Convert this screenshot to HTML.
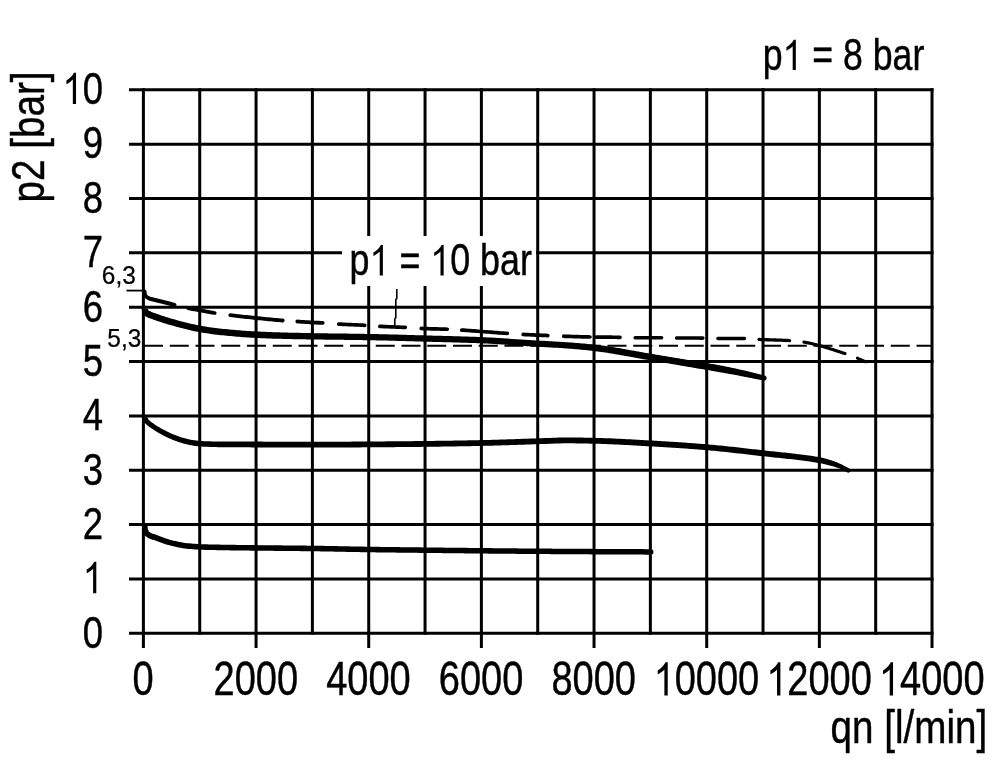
<!DOCTYPE html>
<html><head><meta charset="utf-8"><title>chart</title>
<style>
html,body{margin:0;padding:0;background:#fff}
body{width:1000px;height:764px;overflow:hidden;font-family:"Liberation Sans",sans-serif}
svg{display:block;will-change:transform}
</style></head><body>
<svg width="1000" height="764" viewBox="0 0 1000 764">
<rect width="1000" height="764" fill="#fff"/>
<g stroke="#000" stroke-width="3" fill="none" stroke-linecap="butt">
<path d="M143.4 88.3V648"/>
<path d="M199.73 88.3V634.8"/>
<path d="M256.06 88.3V648"/>
<path d="M312.39 88.3V634.8"/>
<path d="M368.72 88.3V648"/>
<path d="M425.05 88.3V634.8"/>
<path d="M481.38 88.3V648"/>
<path d="M537.71 88.3V634.8"/>
<path d="M594.04 88.3V648"/>
<path d="M650.37 88.3V634.8"/>
<path d="M706.7 88.3V648"/>
<path d="M763.03 88.3V634.8"/>
<path d="M819.36 88.3V648"/>
<path d="M875.69 88.3V634.8"/>
<path d="M932.02 88.3V648"/>
<path d="M129 633.3H933.52"/>
<path d="M129 578.95H933.52"/>
<path d="M129 524.6H933.52"/>
<path d="M129 470.25H933.52"/>
<path d="M129 415.9H933.52"/>
<path d="M129 361.55H933.52"/>
<path d="M129 307.2H933.52"/>
<path d="M129 252.85H933.52"/>
<path d="M129 198.5H933.52"/>
<path d="M129 144.15H933.52"/>
<path d="M129 89.8H933.52"/>
</g>
<rect x="342" y="236" width="194" height="50" fill="#fff"/>
<path d="M144 345.74H932.02" stroke="#000" stroke-width="2" stroke-dasharray="19 6.75" fill="none"/>
<path d="M126.5 290.59H143.4" stroke="#000" stroke-width="1.8" fill="none"/>
<g fill="#000" stroke="none">
<path d="M150.21 311.39 L152.16 312.14 L154.14 312.89 L156.12 313.62 L158.1 314.33 L160.08 315.03 L162.05 315.69 L164.02 316.34 L165.99 316.96 L167.97 317.57 L169.95 318.16 L171.93 318.74 L173.92 319.3 L175.9 319.85 L177.88 320.39 L179.87 320.91 L181.85 321.42 L183.84 321.92 L185.83 322.41 L187.84 322.9 L189.85 323.4 L191.84 323.89 L193.82 324.37 L195.78 324.82 L197.73 325.24 L199.66 325.61 L201.62 325.95 L203.61 326.27 L205.59 326.59 L207.57 326.89 L209.56 327.18 L211.54 327.45 L213.52 327.72 L215.51 327.97 L217.5 328.21 L219.48 328.45 L221.47 328.67 L223.46 328.88 L225.44 329.08 L227.44 329.27 L229.44 329.46 L231.43 329.65 L233.43 329.83 L235.42 330.01 L237.42 330.18 L239.41 330.34 L241.4 330.5 L243.39 330.65 L245.39 330.8 L247.38 330.94 L249.37 331.07 L251.36 331.19 L253.35 331.31 L255.34 331.41 L257.33 331.51 L259.33 331.61 L261.32 331.7 L263.32 331.79 L265.32 331.87 L267.31 331.95 L269.31 332.03 L271.31 332.1 L273.31 332.17 L275.3 332.23 L277.3 332.3 L279.3 332.36 L281.3 332.41 L283.3 332.47 L285.3 332.52 L287.3 332.58 L289.3 332.63 L291.3 332.67 L293.3 332.72 L295.31 332.77 L297.31 332.81 L299.31 332.85 L301.31 332.9 L303.31 332.94 L305.31 332.98 L307.31 333.02 L309.32 333.06 L311.32 333.09 L313.32 333.13 L315.32 333.17 L317.32 333.2 L319.32 333.24 L321.33 333.27 L323.33 333.3 L325.33 333.33 L327.33 333.36 L329.33 333.39 L331.34 333.42 L333.34 333.44 L335.34 333.47 L337.34 333.49 L339.35 333.52 L341.35 333.54 L343.35 333.57 L345.36 333.59 L347.36 333.62 L349.37 333.64 L351.37 333.67 L353.37 333.7 L355.38 333.72 L357.38 333.75 L359.39 333.78 L361.39 333.81 L363.4 333.84 L365.4 333.88 L367.41 333.91 L369.41 333.95 L371.42 333.98 L373.43 334.02 L375.43 334.07 L377.44 334.11 L379.45 334.15 L381.45 334.2 L383.46 334.25 L385.46 334.3 L387.47 334.35 L389.47 334.4 L391.48 334.45 L393.48 334.51 L395.49 334.56 L397.49 334.62 L399.5 334.67 L401.5 334.73 L403.5 334.79 L405.51 334.85 L407.51 334.91 L409.51 334.96 L411.52 335.02 L413.52 335.08 L415.52 335.14 L417.53 335.2 L419.53 335.26 L421.53 335.31 L423.53 335.37 L425.54 335.43 L427.54 335.48 L429.54 335.54 L431.54 335.59 L433.54 335.65 L435.55 335.7 L437.55 335.75 L439.55 335.8 L441.55 335.85 L443.56 335.91 L445.56 335.96 L447.57 336.01 L449.57 336.06 L451.57 336.11 L453.58 336.17 L455.58 336.22 L457.59 336.28 L459.59 336.33 L461.6 336.39 L463.6 336.45 L465.61 336.51 L467.62 336.58 L469.62 336.64 L471.63 336.71 L473.64 336.78 L475.64 336.85 L477.65 336.92 L479.66 337 L481.67 337.08 L483.69 337.17 L485.7 337.27 L487.72 337.38 L489.73 337.49 L491.74 337.61 L493.75 337.73 L495.76 337.86 L497.77 337.99 L499.77 338.12 L501.77 338.24 L503.77 338.37 L505.77 338.49 L507.78 338.62 L509.79 338.75 L511.79 338.88 L513.8 339.01 L515.8 339.14 L517.8 339.27 L519.81 339.41 L521.81 339.54 L523.81 339.67 L525.81 339.8 L527.81 339.93 L529.81 340.05 L531.81 340.18 L533.81 340.3 L535.81 340.41 L537.81 340.53 L539.81 340.64 L541.81 340.76 L543.81 340.87 L545.82 340.98 L547.82 341.09 L549.83 341.21 L551.84 341.32 L553.84 341.44 L555.84 341.56 L557.85 341.68 L559.85 341.8 L561.86 341.91 L563.88 342.03 L565.9 342.16 L567.91 342.3 L569.92 342.44 L571.93 342.59 L573.94 342.74 L575.95 342.89 L577.97 343.05 L579.98 343.22 L581.99 343.39 L584 343.57 L586.02 343.75 L588.03 343.95 L590.05 344.14 L592.06 344.35 L594.08 344.56 L596.1 344.79 L598.13 345.02 L600.15 345.27 L602.17 345.54 L604.2 345.82 L606.22 346.11 L608.23 346.41 L610.25 346.71 L612.27 347.03 L614.28 347.35 L616.3 347.68 L618.31 348.02 L620.32 348.36 L622.33 348.71 L624.34 349.06 L626.35 349.41 L628.36 349.77 L630.37 350.13 L632.37 350.49 L634.38 350.85 L636.38 351.21 L638.38 351.57 L640.38 351.93 L642.38 352.28 L644.38 352.64 L646.38 352.98 L648.37 353.33 L650.37 353.67 L652.36 354 L654.37 354.33 L656.37 354.66 L658.38 355 L660.38 355.33 L662.39 355.67 L664.39 356 L666.4 356.34 L668.4 356.67 L670.4 357.01 L672.41 357.35 L674.41 357.69 L676.42 358.02 L678.42 358.36 L680.42 358.7 L682.43 359.04 L684.43 359.37 L686.43 359.71 L688.44 360.05 L690.44 360.39 L692.44 360.72 L694.45 361.06 L696.44 361.39 L698.44 361.72 L700.44 362.05 L702.45 362.38 L704.45 362.7 L706.45 363.03 L708.46 363.36 L710.47 363.69 L712.48 364.03 L714.5 364.37 L716.51 364.72 L718.53 365.08 L720.55 365.44 L722.55 365.85 L724.56 366.25 L726.56 366.67 L728.56 367.08 L730.57 367.5 L732.57 367.93 L734.58 368.36 L736.58 368.79 L738.58 369.23 L740.59 369.67 L742.59 370.12 L744.59 370.57 L746.6 371.03 L748.6 371.49 L750.6 371.95 L752.6 372.44 L754.6 372.93 L756.6 373.43 L758.6 373.93 L760.6 374.44 L762.6 374.95 L764.59 375.47 L763.41 380.53 L761.4 380.12 L759.39 379.7 L757.38 379.3 L755.37 378.89 L753.37 378.5 L751.36 378.1 L749.35 377.72 L747.35 377.31 L745.34 376.91 L743.34 376.52 L741.34 376.13 L739.33 375.74 L737.33 375.36 L735.33 374.99 L733.33 374.62 L731.32 374.25 L729.32 373.88 L727.32 373.53 L725.32 373.17 L723.31 372.82 L721.31 372.47 L719.31 372.13 L717.32 371.76 L715.33 371.41 L713.34 371.06 L711.35 370.71 L709.35 370.37 L707.36 370.04 L705.36 369.7 L703.36 369.37 L701.35 369.04 L699.35 368.71 L697.34 368.38 L695.33 368.04 L693.32 367.7 L691.32 367.36 L689.32 367.02 L687.31 366.67 L685.31 366.33 L683.31 365.99 L681.3 365.65 L679.3 365.3 L677.3 364.96 L675.3 364.62 L673.29 364.28 L671.29 363.93 L669.29 363.59 L667.29 363.25 L665.29 362.91 L663.28 362.57 L661.28 362.23 L659.28 361.89 L657.28 361.55 L655.28 361.21 L653.27 360.88 L651.27 360.54 L649.26 360.2 L647.25 359.85 L645.24 359.5 L643.23 359.14 L641.22 358.78 L639.21 358.42 L637.21 358.06 L635.2 357.69 L633.2 357.33 L631.2 356.96 L629.2 356.6 L627.2 356.24 L625.2 355.88 L623.2 355.52 L621.2 355.16 L619.21 354.82 L617.21 354.47 L615.22 354.13 L613.23 353.8 L611.24 353.48 L609.25 353.16 L607.26 352.85 L605.27 352.55 L603.28 352.26 L601.3 351.98 L599.31 351.72 L597.33 351.46 L595.35 351.21 L593.37 350.98 L591.38 350.75 L589.38 350.53 L587.39 350.32 L585.4 350.12 L583.41 349.92 L581.42 349.73 L579.42 349.54 L577.43 349.36 L575.43 349.19 L573.44 349.02 L571.44 348.86 L569.45 348.7 L567.45 348.54 L565.46 348.39 L563.47 348.25 L561.48 348.11 L559.48 347.99 L557.48 347.87 L555.48 347.75 L553.48 347.63 L551.47 347.52 L549.47 347.4 L547.47 347.29 L545.47 347.18 L543.47 347.06 L541.47 346.95 L539.46 346.84 L537.46 346.73 L535.45 346.61 L533.44 346.5 L531.43 346.38 L529.43 346.25 L527.42 346.13 L525.41 346 L523.41 345.87 L521.4 345.74 L519.4 345.61 L517.39 345.48 L515.39 345.35 L513.39 345.21 L511.39 345.08 L509.39 344.96 L507.39 344.83 L505.39 344.7 L503.39 344.58 L501.38 344.46 L499.37 344.33 L497.37 344.2 L495.37 344.07 L493.37 343.95 L491.37 343.83 L489.37 343.71 L487.38 343.6 L485.39 343.49 L483.4 343.4 L481.41 343.31 L479.42 343.23 L477.42 343.16 L475.42 343.08 L473.42 343.01 L471.42 342.94 L469.42 342.88 L467.42 342.81 L465.42 342.75 L463.42 342.69 L461.42 342.63 L459.42 342.57 L457.42 342.52 L455.41 342.46 L453.41 342.41 L451.41 342.36 L449.41 342.31 L447.41 342.26 L445.4 342.21 L443.4 342.15 L441.4 342.1 L439.39 342.05 L437.39 342 L435.38 341.95 L433.38 341.9 L431.38 341.85 L429.37 341.79 L427.37 341.74 L425.36 341.68 L423.36 341.63 L421.35 341.57 L419.35 341.52 L417.35 341.46 L415.34 341.4 L413.34 341.34 L411.34 341.28 L409.33 341.23 L407.33 341.17 L405.33 341.11 L403.32 341.05 L401.32 341 L399.32 340.94 L397.32 340.89 L395.31 340.83 L393.31 340.78 L391.31 340.72 L389.31 340.67 L387.31 340.62 L385.31 340.57 L383.31 340.52 L381.3 340.48 L379.3 340.43 L377.3 340.39 L375.3 340.34 L373.3 340.3 L371.3 340.27 L369.3 340.23 L367.3 340.19 L365.3 340.16 L363.3 340.13 L361.3 340.1 L359.3 340.07 L357.29 340.04 L355.29 340.01 L353.29 339.99 L351.29 339.96 L349.29 339.93 L347.28 339.91 L345.28 339.89 L343.28 339.86 L341.27 339.84 L339.27 339.81 L337.27 339.79 L335.26 339.77 L333.26 339.74 L331.26 339.72 L329.25 339.69 L327.25 339.67 L325.24 339.64 L323.24 339.62 L321.23 339.59 L319.23 339.57 L317.22 339.54 L315.22 339.51 L313.21 339.48 L311.21 339.45 L309.2 339.41 L307.2 339.38 L305.2 339.35 L303.19 339.31 L301.19 339.28 L299.18 339.24 L297.18 339.2 L295.17 339.17 L293.16 339.13 L291.16 339.08 L289.15 339.04 L287.15 339 L285.14 338.95 L283.13 338.9 L281.13 338.85 L279.12 338.8 L277.11 338.74 L275.11 338.69 L273.1 338.63 L271.09 338.56 L269.08 338.5 L267.07 338.42 L265.06 338.35 L263.05 338.27 L261.04 338.19 L259.03 338.1 L257.02 338 L255.01 337.9 L252.99 337.8 L250.97 337.68 L248.96 337.55 L246.94 337.42 L244.93 337.28 L242.91 337.14 L240.9 336.98 L238.88 336.82 L236.87 336.66 L234.86 336.48 L232.85 336.31 L230.84 336.12 L228.82 335.94 L226.81 335.74 L224.8 335.55 L222.79 335.34 L220.77 335.13 L218.75 334.9 L216.73 334.67 L214.71 334.42 L212.68 334.16 L210.66 333.89 L208.64 333.61 L206.62 333.32 L204.59 333.01 L202.57 332.69 L200.55 332.36 L198.5 332.01 L196.43 331.61 L194.37 331.17 L192.32 330.69 L190.3 330.21 L188.28 329.71 L186.29 329.22 L184.29 328.73 L182.27 328.23 L180.25 327.72 L178.23 327.2 L176.21 326.67 L174.18 326.12 L172.16 325.56 L170.14 324.99 L168.11 324.4 L166.09 323.79 L164.06 323.17 L162.03 322.53 L159.99 321.86 L157.96 321.17 L155.93 320.46 L153.9 319.73 L151.87 318.98 L149.85 318.22 L147.79 317.42Z"/>
<path d="M144.9 308.8C144.9 312.6 146.3 313.6 150 314.9" fill="none" stroke="#000" stroke-width="6.5"/>
<circle cx="764" cy="378" r="2.6"/>
<path d="M146.03 416.55 L147.81 418.86 L149.67 420.63 L151.54 422.16 L153.46 423.55 L155.44 424.91 L157.37 426.17 L159.31 427.34 L161.27 428.46 L163.25 429.55 L165.22 430.59 L167.18 431.59 L169.13 432.54 L171.08 433.42 L173.05 434.27 L175 435.07 L176.95 435.82 L178.88 436.51 L180.85 437.16 L182.8 437.77 L184.74 438.32 L186.65 438.8 L188.61 439.25 L190.57 439.65 L192.51 440.01 L194.44 440.32 L196.43 440.62 L198.33 440.86 L200.18 440.99 L202.17 441.08 L204.16 441.16 L206.15 441.23 L208.14 441.3 L210.13 441.35 L212.12 441.4 L214.12 441.45 L216.11 441.48 L218.1 441.51 L220.09 441.54 L222.08 441.56 L224.08 441.57 L226.07 441.58 L228.07 441.58 L230.07 441.59 L232.07 441.59 L234.07 441.59 L236.07 441.6 L238.07 441.6 L240.08 441.6 L242.08 441.6 L244.08 441.6 L246.08 441.6 L248.08 441.6 L250.08 441.6 L252.08 441.6 L254.09 441.6 L256.09 441.6 L258.09 441.61 L260.09 441.61 L262.1 441.62 L264.1 441.63 L266.1 441.64 L268.1 441.65 L270.1 441.66 L272.1 441.67 L274.11 441.67 L276.11 441.68 L278.11 441.69 L280.11 441.7 L282.11 441.71 L284.11 441.72 L286.11 441.73 L288.11 441.74 L290.12 441.74 L292.12 441.75 L294.12 441.76 L296.12 441.77 L298.12 441.77 L300.12 441.78 L302.12 441.78 L304.12 441.79 L306.12 441.79 L308.12 441.79 L310.12 441.79 L312.12 441.79 L314.12 441.79 L316.12 441.79 L318.12 441.79 L320.12 441.79 L322.12 441.78 L324.12 441.78 L326.12 441.77 L328.12 441.76 L330.12 441.75 L332.12 441.74 L334.12 441.73 L336.12 441.72 L338.12 441.71 L340.12 441.7 L342.12 441.69 L344.12 441.67 L346.12 441.66 L348.12 441.65 L350.13 441.63 L352.13 441.62 L354.13 441.6 L356.13 441.59 L358.13 441.57 L360.13 441.56 L362.13 441.54 L364.14 441.53 L366.14 441.52 L368.14 441.5 L370.14 441.49 L372.14 441.48 L374.14 441.46 L376.14 441.45 L378.15 441.43 L380.15 441.42 L382.15 441.4 L384.15 441.39 L386.15 441.37 L388.15 441.36 L390.15 441.34 L392.15 441.33 L394.15 441.31 L396.15 441.29 L398.16 441.27 L400.16 441.26 L402.16 441.24 L404.16 441.22 L406.16 441.2 L408.16 441.18 L410.16 441.16 L412.16 441.14 L414.16 441.12 L416.16 441.1 L418.16 441.08 L420.16 441.06 L422.17 441.04 L424.17 441.02 L426.17 440.99 L428.17 440.97 L430.17 440.95 L432.17 440.92 L434.17 440.9 L436.17 440.87 L438.17 440.84 L440.17 440.82 L442.17 440.79 L444.17 440.76 L446.17 440.73 L448.17 440.7 L450.17 440.67 L452.17 440.64 L454.17 440.61 L456.17 440.57 L458.17 440.54 L460.17 440.5 L462.17 440.47 L464.17 440.43 L466.17 440.4 L468.18 440.36 L470.18 440.32 L472.18 440.28 L474.18 440.24 L476.18 440.2 L478.18 440.16 L480.18 440.12 L482.18 440.08 L484.17 440.03 L486.17 439.98 L488.17 439.93 L490.17 439.88 L492.17 439.83 L494.17 439.77 L496.16 439.71 L498.16 439.65 L500.16 439.59 L502.16 439.53 L504.16 439.46 L506.16 439.4 L508.16 439.33 L510.16 439.27 L512.16 439.2 L514.16 439.13 L516.16 439.06 L518.17 438.99 L520.17 438.93 L522.17 438.86 L524.17 438.79 L526.17 438.72 L528.18 438.66 L530.18 438.59 L532.18 438.52 L534.19 438.46 L536.19 438.4 L538.18 438.34 L540.18 438.27 L542.17 438.19 L544.17 438.12 L546.17 438.04 L548.17 437.96 L550.17 437.88 L552.18 437.8 L554.19 437.73 L556.2 437.66 L558.21 437.6 L560.23 437.55 L562.25 437.51 L564.27 437.49 L566.29 437.47 L568.31 437.47 L570.32 437.48 L572.33 437.49 L574.33 437.51 L576.34 437.53 L578.35 437.56 L580.36 437.59 L582.36 437.62 L584.37 437.66 L586.37 437.69 L588.37 437.73 L590.38 437.77 L592.38 437.82 L594.38 437.86 L596.39 437.9 L598.4 437.95 L600.41 438 L602.42 438.06 L604.43 438.13 L606.44 438.2 L608.44 438.28 L610.45 438.36 L612.46 438.44 L614.47 438.53 L616.47 438.63 L618.48 438.72 L620.49 438.82 L622.49 438.92 L624.5 439.03 L626.5 439.14 L628.5 439.24 L630.51 439.36 L632.51 439.47 L634.51 439.58 L636.52 439.69 L638.52 439.81 L640.52 439.92 L642.52 440.04 L644.52 440.15 L646.52 440.27 L648.52 440.38 L650.52 440.49 L652.53 440.6 L654.53 440.71 L656.53 440.83 L658.54 440.95 L660.54 441.06 L662.54 441.18 L664.55 441.3 L666.55 441.42 L668.55 441.55 L670.56 441.67 L672.56 441.8 L674.57 441.93 L676.57 442.06 L678.58 442.19 L680.58 442.33 L682.58 442.47 L684.59 442.6 L686.59 442.75 L688.6 442.89 L690.6 443.03 L692.61 443.18 L694.61 443.33 L696.62 443.49 L698.62 443.64 L700.63 443.8 L702.63 443.96 L704.64 444.12 L706.65 444.29 L708.66 444.46 L710.66 444.64 L712.67 444.82 L714.68 445 L716.69 445.2 L718.7 445.39 L720.7 445.59 L722.71 445.79 L724.72 446 L726.72 446.21 L728.73 446.42 L730.73 446.64 L732.74 446.86 L734.74 447.08 L736.75 447.3 L738.75 447.53 L740.75 447.75 L742.76 447.98 L744.76 448.21 L746.76 448.44 L748.77 448.67 L750.77 448.9 L752.77 449.13 L754.77 449.36 L756.77 449.59 L758.77 449.82 L760.77 450.05 L762.77 450.28 L764.76 450.5 L766.76 450.72 L768.76 450.93 L770.75 451.15 L772.75 451.35 L774.75 451.56 L776.75 451.77 L778.75 451.97 L780.75 452.18 L782.76 452.38 L784.76 452.59 L786.77 452.8 L788.77 453.02 L790.78 453.23 L792.79 453.46 L794.8 453.68 L796.81 453.92 L798.82 454.16 L800.83 454.41 L802.85 454.66 L804.86 454.93 L806.88 455.2 L808.89 455.49 L810.91 455.79 L812.93 456.1 L814.95 456.42 L816.97 456.75 L818.99 457.1 L821.04 457.5 L823.09 457.98 L825.14 458.51 L827.18 459.08 L829.21 459.69 L831.24 460.33 L833.27 461.02 L835.29 461.74 L837.35 462.53 L839.41 463.41 L841.46 464.36 L843.49 465.39 L845.51 466.47 L847.53 467.6 L849.53 468.77 L847.47 472.43 L845.47 471.4 L843.48 470.41 L841.5 469.48 L839.53 468.62 L837.57 467.84 L835.63 467.13 L833.69 466.52 L831.71 465.93 L829.73 465.39 L827.76 464.88 L825.79 464.41 L823.83 463.99 L821.87 463.6 L819.92 463.26 L817.97 462.91 L815.98 462.57 L814 462.24 L812.02 461.92 L810.03 461.62 L808.05 461.33 L806.06 461.04 L804.08 460.77 L802.09 460.51 L800.1 460.26 L798.11 460.01 L796.12 459.77 L794.13 459.54 L792.13 459.31 L790.14 459.09 L788.14 458.88 L786.15 458.66 L784.15 458.45 L782.15 458.25 L780.15 458.04 L778.15 457.83 L776.15 457.63 L774.15 457.42 L772.14 457.21 L770.14 457.01 L768.13 456.79 L766.12 456.58 L764.12 456.36 L762.11 456.13 L760.1 455.9 L758.1 455.67 L756.1 455.44 L754.1 455.21 L752.09 454.98 L750.09 454.75 L748.09 454.52 L746.09 454.29 L744.09 454.06 L742.09 453.83 L740.09 453.6 L738.09 453.38 L736.09 453.15 L734.09 452.93 L732.1 452.71 L730.1 452.49 L728.1 452.28 L726.1 452.06 L724.11 451.85 L722.11 451.65 L720.11 451.44 L718.12 451.25 L716.12 451.05 L714.13 450.86 L712.13 450.67 L710.14 450.49 L708.15 450.32 L706.15 450.15 L704.16 449.98 L702.16 449.82 L700.16 449.66 L698.16 449.5 L696.17 449.35 L694.17 449.19 L692.17 449.04 L690.17 448.9 L688.17 448.75 L686.18 448.61 L684.18 448.47 L682.18 448.33 L680.18 448.19 L678.18 448.06 L676.18 447.92 L674.19 447.79 L672.19 447.66 L670.19 447.54 L668.19 447.41 L666.19 447.29 L664.19 447.16 L662.19 447.04 L660.19 446.92 L658.19 446.81 L656.19 446.69 L654.2 446.58 L652.2 446.46 L650.2 446.35 L648.19 446.24 L646.19 446.13 L644.19 446.01 L642.19 445.9 L640.18 445.78 L638.18 445.67 L636.18 445.55 L634.18 445.44 L632.18 445.32 L630.18 445.21 L628.18 445.1 L626.18 444.99 L624.19 444.89 L622.19 444.78 L620.19 444.68 L618.19 444.58 L616.2 444.48 L614.2 444.39 L612.2 444.3 L610.21 444.22 L608.21 444.14 L606.22 444.06 L604.23 443.99 L602.23 443.92 L600.24 443.86 L598.25 443.81 L596.25 443.76 L594.26 443.72 L592.26 443.67 L590.26 443.63 L588.26 443.59 L586.26 443.55 L584.26 443.51 L582.26 443.48 L580.26 443.44 L578.27 443.41 L576.27 443.39 L574.28 443.37 L572.28 443.35 L570.29 443.34 L568.3 443.33 L566.31 443.33 L564.33 443.34 L562.35 443.37 L560.36 443.41 L558.37 443.45 L556.38 443.51 L554.39 443.58 L552.4 443.65 L550.4 443.73 L548.4 443.8 L546.4 443.88 L544.4 443.96 L542.39 444.04 L540.39 444.11 L538.38 444.18 L536.37 444.25 L534.37 444.31 L532.37 444.37 L530.37 444.43 L528.37 444.5 L526.37 444.57 L524.37 444.63 L522.37 444.7 L520.37 444.77 L518.37 444.84 L516.36 444.9 L514.36 444.97 L512.36 445.04 L510.36 445.11 L508.36 445.17 L506.35 445.24 L504.35 445.3 L502.35 445.37 L500.34 445.43 L498.34 445.49 L496.34 445.55 L494.33 445.61 L492.33 445.67 L490.32 445.72 L488.32 445.77 L486.31 445.82 L484.31 445.87 L482.3 445.91 L480.3 445.96 L478.3 446 L476.3 446.04 L474.29 446.08 L472.29 446.12 L470.29 446.16 L468.29 446.2 L466.28 446.23 L464.28 446.27 L462.28 446.3 L460.28 446.34 L458.27 446.37 L456.27 446.41 L454.27 446.44 L452.27 446.47 L450.26 446.5 L448.26 446.53 L446.26 446.56 L444.26 446.59 L442.25 446.62 L440.25 446.65 L438.25 446.68 L436.25 446.7 L434.24 446.73 L432.24 446.75 L430.24 446.78 L428.24 446.8 L426.23 446.82 L424.23 446.85 L422.23 446.87 L420.23 446.89 L418.23 446.91 L416.22 446.93 L414.22 446.95 L412.22 446.97 L410.22 446.99 L408.22 447.01 L406.21 447.03 L404.21 447.05 L402.21 447.07 L400.21 447.08 L398.21 447.1 L396.2 447.12 L394.2 447.13 L392.2 447.15 L390.2 447.17 L388.2 447.18 L386.19 447.2 L384.19 447.21 L382.19 447.23 L380.19 447.24 L378.19 447.25 L376.19 447.27 L374.18 447.28 L372.18 447.3 L370.18 447.31 L368.18 447.32 L366.18 447.34 L364.18 447.35 L362.18 447.36 L360.17 447.38 L358.17 447.39 L356.17 447.41 L354.17 447.42 L352.17 447.43 L350.17 447.45 L348.16 447.46 L346.16 447.47 L344.16 447.49 L342.16 447.5 L340.16 447.51 L338.15 447.52 L336.15 447.54 L334.15 447.55 L332.15 447.56 L330.15 447.57 L328.14 447.57 L326.14 447.58 L324.14 447.59 L322.13 447.59 L320.13 447.6 L318.13 447.6 L316.12 447.6 L314.12 447.6 L312.12 447.6 L310.12 447.6 L308.11 447.6 L306.11 447.6 L304.11 447.6 L302.11 447.59 L300.1 447.59 L298.1 447.58 L296.1 447.57 L294.1 447.57 L292.09 447.56 L290.09 447.55 L288.09 447.54 L286.09 447.53 L284.09 447.52 L282.08 447.52 L280.08 447.51 L278.08 447.5 L276.08 447.49 L274.08 447.48 L272.08 447.47 L270.08 447.46 L268.08 447.45 L266.07 447.44 L264.07 447.43 L262.07 447.42 L260.07 447.42 L258.07 447.41 L256.07 447.4 L254.07 447.39 L252.07 447.38 L250.07 447.37 L248.07 447.36 L246.07 447.35 L244.06 447.34 L242.06 447.33 L240.06 447.32 L238.06 447.31 L236.06 447.3 L234.05 447.29 L232.05 447.28 L230.05 447.26 L228.05 447.25 L226.04 447.23 L224.04 447.22 L222.03 447.19 L220.02 447.16 L218.01 447.13 L215.99 447.09 L213.98 447.04 L211.97 446.98 L209.96 446.91 L207.95 446.84 L205.94 446.75 L203.92 446.66 L201.91 446.56 L199.9 446.46 L197.75 446.28 L195.64 446 L193.63 445.69 L191.56 445.34 L189.5 444.94 L187.45 444.49 L185.41 444.01 L183.32 443.47 L181.25 442.86 L179.2 442.2 L177.17 441.51 L175.1 440.76 L173.04 439.95 L170.99 439.09 L168.96 438.19 L166.9 437.24 L164.85 436.23 L162.81 435.17 L160.78 434.07 L158.75 432.94 L156.71 431.75 L154.64 430.48 L152.57 429.1 L150.55 427.69 L148.47 426.16 L146.34 424.4 L144.19 422.34 L141.97 419.45Z"/>
<circle cx="848.5" cy="470.6" r="2.1"/>
<path d="M142.2 415.5H146.5L148 419L142.2 422Z"/>
<path d="M154.12 534.01 L156.04 534.81 L158.03 535.6 L160 536.37 L161.97 537.11 L163.93 537.81 L165.87 538.47 L167.81 539.09 L169.73 539.64 L171.68 540.14 L173.66 540.63 L175.63 541.1 L177.59 541.54 L179.55 541.94 L181.49 542.31 L183.43 542.63 L185.36 542.91 L187.31 543.13 L189.28 543.34 L191.26 543.54 L193.23 543.71 L195.2 543.86 L197.16 543.98 L199.12 544.08 L201.1 544.16 L203.09 544.23 L205.08 544.29 L207.08 544.35 L209.07 544.4 L211.06 544.45 L213.06 544.49 L215.05 544.53 L217.05 544.57 L219.05 544.61 L221.05 544.64 L223.05 544.67 L225.05 544.71 L227.04 544.74 L229.04 544.77 L231.04 544.8 L233.04 544.83 L235.04 544.86 L237.04 544.89 L239.03 544.91 L241.03 544.94 L243.03 544.96 L245.03 544.98 L247.03 545.01 L249.03 545.03 L251.03 545.05 L253.03 545.08 L255.03 545.1 L257.03 545.12 L259.03 545.15 L261.03 545.17 L263.03 545.19 L265.03 545.21 L267.03 545.23 L269.03 545.25 L271.03 545.27 L273.03 545.29 L275.03 545.31 L277.03 545.33 L279.03 545.35 L281.03 545.37 L283.03 545.39 L285.03 545.41 L287.03 545.43 L289.03 545.45 L291.03 545.47 L293.03 545.49 L295.03 545.51 L297.03 545.53 L299.03 545.55 L301.03 545.57 L303.03 545.59 L305.03 545.62 L307.03 545.64 L309.03 545.67 L311.04 545.69 L313.04 545.72 L315.04 545.74 L317.04 545.77 L319.04 545.8 L321.04 545.84 L323.05 545.87 L325.05 545.9 L327.05 545.94 L329.05 545.97 L331.05 546.01 L333.05 546.05 L335.05 546.09 L337.05 546.12 L339.05 546.16 L341.05 546.2 L343.05 546.24 L345.05 546.28 L347.05 546.32 L349.05 546.36 L351.05 546.4 L353.05 546.43 L355.05 546.47 L357.05 546.51 L359.05 546.54 L361.05 546.58 L363.05 546.61 L365.04 546.65 L367.04 546.68 L369.04 546.71 L371.04 546.74 L373.04 546.77 L375.04 546.79 L377.04 546.82 L379.04 546.85 L381.04 546.88 L383.04 546.9 L385.04 546.93 L387.04 546.96 L389.04 546.98 L391.03 547.01 L393.03 547.03 L395.03 547.06 L397.03 547.08 L399.03 547.11 L401.03 547.13 L403.03 547.15 L405.03 547.18 L407.03 547.2 L409.03 547.22 L411.03 547.25 L413.03 547.27 L415.03 547.29 L417.03 547.32 L419.03 547.34 L421.03 547.36 L423.03 547.38 L425.03 547.41 L427.03 547.43 L429.03 547.45 L431.03 547.47 L433.03 547.49 L435.03 547.52 L437.03 547.54 L439.03 547.56 L441.03 547.58 L443.03 547.61 L445.03 547.63 L447.03 547.65 L449.03 547.67 L451.03 547.69 L453.03 547.72 L455.03 547.74 L457.03 547.76 L459.03 547.78 L461.03 547.8 L463.03 547.82 L465.03 547.85 L467.03 547.87 L469.03 547.89 L471.03 547.91 L473.03 547.93 L475.03 547.95 L477.03 547.97 L479.03 547.99 L481.03 548.02 L483.03 548.04 L485.03 548.06 L487.03 548.08 L489.03 548.1 L491.03 548.12 L493.03 548.14 L495.03 548.16 L497.03 548.18 L499.03 548.19 L501.03 548.21 L503.03 548.23 L505.03 548.25 L507.03 548.27 L509.02 548.29 L511.02 548.31 L513.02 548.32 L515.02 548.34 L517.02 548.36 L519.02 548.38 L521.02 548.39 L523.02 548.41 L525.02 548.43 L527.02 548.44 L529.02 548.46 L531.02 548.47 L533.02 548.49 L535.02 548.5 L537.02 548.52 L539.02 548.53 L541.02 548.55 L543.02 548.56 L545.02 548.57 L547.02 548.59 L549.02 548.6 L551.02 548.62 L553.02 548.63 L555.02 548.64 L557.02 548.66 L559.02 548.67 L561.02 548.68 L563.02 548.7 L565.02 548.71 L567.02 548.72 L569.02 548.74 L571.02 548.75 L573.02 548.76 L575.02 548.77 L577.02 548.79 L579.02 548.8 L581.02 548.81 L583.02 548.82 L585.02 548.83 L587.02 548.85 L589.02 548.86 L591.02 548.87 L593.02 548.88 L595.02 548.89 L597.02 548.9 L599.01 548.92 L601.01 548.93 L603.01 548.94 L605.01 548.95 L607.01 548.96 L609.01 548.97 L611.01 548.98 L613.01 548.99 L615.01 549 L617.01 549.01 L619.01 549.02 L621.01 549.03 L623.01 549.04 L625.01 549.05 L627.01 549.06 L629.01 549.06 L631.01 549.07 L633.01 549.08 L635.01 549.09 L637.01 549.1 L639.01 549.11 L641.01 549.11 L643.01 549.12 L645.01 549.13 L647.01 549.14 L649.01 549.14 L651.01 549.15 L650.99 554.65 L648.99 554.64 L646.99 554.64 L644.99 554.63 L642.99 554.62 L640.99 554.62 L638.99 554.61 L636.99 554.6 L634.99 554.59 L632.99 554.59 L630.99 554.58 L628.99 554.57 L626.99 554.56 L624.99 554.55 L622.99 554.54 L620.99 554.53 L618.99 554.53 L616.99 554.52 L614.99 554.51 L612.99 554.5 L610.99 554.49 L608.99 554.48 L606.99 554.47 L604.99 554.46 L602.99 554.45 L600.99 554.44 L598.99 554.43 L596.98 554.41 L594.98 554.4 L592.98 554.39 L590.98 554.38 L588.98 554.37 L586.98 554.36 L584.98 554.35 L582.98 554.34 L580.98 554.32 L578.98 554.31 L576.98 554.3 L574.98 554.29 L572.98 554.28 L570.98 554.26 L568.98 554.25 L566.98 554.24 L564.98 554.23 L562.98 554.21 L560.98 554.2 L558.98 554.19 L556.98 554.17 L554.98 554.16 L552.98 554.15 L550.98 554.14 L548.98 554.12 L546.98 554.11 L544.98 554.09 L542.98 554.08 L540.98 554.07 L538.98 554.05 L536.98 554.04 L534.98 554.03 L532.98 554.01 L530.98 554 L528.98 553.98 L526.98 553.97 L524.98 553.95 L522.98 553.93 L520.98 553.92 L518.98 553.9 L516.98 553.88 L514.98 553.87 L512.98 553.85 L510.98 553.83 L508.98 553.82 L506.97 553.8 L504.97 553.78 L502.97 553.76 L500.97 553.74 L498.97 553.72 L496.97 553.71 L494.97 553.69 L492.97 553.67 L490.97 553.65 L488.97 553.63 L486.97 553.61 L484.97 553.59 L482.97 553.57 L480.97 553.55 L478.97 553.53 L476.97 553.51 L474.97 553.49 L472.97 553.47 L470.97 553.45 L468.97 553.43 L466.97 553.4 L464.97 553.38 L462.97 553.36 L460.97 553.34 L458.97 553.32 L456.97 553.3 L454.97 553.28 L452.97 553.25 L450.97 553.23 L448.97 553.21 L446.97 553.19 L444.97 553.17 L442.97 553.15 L440.97 553.12 L438.97 553.1 L436.97 553.08 L434.97 553.06 L432.97 553.04 L430.97 553.02 L428.97 552.99 L426.97 552.97 L424.97 552.95 L422.97 552.93 L420.97 552.91 L418.97 552.88 L416.97 552.86 L414.97 552.84 L412.97 552.82 L410.97 552.79 L408.97 552.77 L406.97 552.75 L404.97 552.73 L402.97 552.7 L400.97 552.68 L398.97 552.66 L396.97 552.63 L394.97 552.61 L392.97 552.58 L390.97 552.56 L388.96 552.53 L386.96 552.51 L384.96 552.48 L382.96 552.46 L380.96 552.43 L378.96 552.4 L376.96 552.38 L374.96 552.35 L372.96 552.32 L370.96 552.29 L368.96 552.26 L366.96 552.23 L364.96 552.2 L362.95 552.17 L360.95 552.13 L358.95 552.1 L356.95 552.06 L354.95 552.03 L352.95 551.99 L350.95 551.95 L348.95 551.92 L346.95 551.88 L344.95 551.84 L342.95 551.8 L340.95 551.76 L338.95 551.72 L336.95 551.68 L334.95 551.65 L332.95 551.61 L330.95 551.57 L328.95 551.54 L326.95 551.5 L324.95 551.47 L322.95 551.43 L320.96 551.4 L318.96 551.37 L316.96 551.34 L314.96 551.31 L312.96 551.28 L310.96 551.26 L308.97 551.23 L306.97 551.21 L304.97 551.19 L302.97 551.16 L300.97 551.14 L298.97 551.12 L296.97 551.1 L294.97 551.08 L292.97 551.06 L290.97 551.04 L288.97 551.02 L286.97 551 L284.97 550.98 L282.97 550.96 L280.97 550.94 L278.97 550.92 L276.97 550.9 L274.97 550.89 L272.97 550.87 L270.97 550.85 L268.97 550.83 L266.97 550.81 L264.97 550.79 L262.97 550.77 L260.97 550.74 L258.97 550.72 L256.97 550.7 L254.97 550.68 L252.97 550.65 L250.97 550.63 L248.97 550.61 L246.97 550.59 L244.97 550.56 L242.97 550.54 L240.97 550.52 L238.97 550.49 L236.96 550.47 L234.96 550.44 L232.96 550.41 L230.96 550.39 L228.96 550.36 L226.96 550.32 L224.95 550.29 L222.95 550.26 L220.95 550.22 L218.95 550.19 L216.95 550.15 L214.95 550.12 L212.94 550.08 L210.94 550.03 L208.93 549.99 L206.92 549.93 L204.92 549.88 L202.91 549.81 L200.9 549.74 L198.88 549.67 L196.84 549.56 L194.8 549.43 L192.77 549.28 L190.74 549.1 L188.72 548.91 L186.69 548.69 L184.64 548.45 L182.57 548.16 L180.51 547.82 L178.45 547.43 L176.41 547 L174.37 546.55 L172.34 546.07 L170.32 545.57 L168.27 545.04 L166.19 544.44 L164.13 543.79 L162.07 543.09 L160.03 542.36 L158 541.59 L155.97 540.8 L153.96 540 L151.88 539.15Z"/>
<path d="M144.7 525.5C144.7 533 147 535 154 537.2" fill="none" stroke="#000" stroke-width="5.6"/>
<circle cx="650.8" cy="551.9" r="2.65"/>
</g>
<g stroke="#000" fill="none" stroke-linecap="round" stroke-linejoin="round">
<path d="M144.5 291.5C144.6 296 146 297.5 150 298.8 L150 298.8 L152.04 299.32 L154.08 299.8 L156.12 300.26 L158.17 300.71 L160.21 301.17 L162.25 301.66 L164.29 302.19 L166.33 302.74 L168.38 303.29 L170.42 303.85 L172.46 304.4 L174.5 304.93" stroke-width="4.1"/>
<path d="M188.3 308.26 L190.33 308.66 L192.36 309.04 L194.39 309.39 L196.42 309.75 L198.45 310.1 L200.48 310.47 L202.52 310.84 L204.55 311.21 L206.58 311.59 L208.61 311.95 L210.64 312.31 L212.67 312.66 L214.7 313" stroke-width="3.8"/>
<path d="M230.3 315.16 L232.32 315.41 L234.33 315.65 L236.35 315.88 L238.36 316.12 L240.38 316.34 L242.39 316.57 L244.41 316.79 L246.42 317.01 L248.44 317.22 L250.45 317.43 L252.47 317.64 L254.48 317.85 L256.5 318.05 L258.52 318.25 L260.53 318.46 L262.55 318.66 L264.56 318.86 L266.58 319.06 L268.59 319.25 L270.61 319.45 L272.62 319.63 L274.64 319.82 L276.65 320 L278.67 320.17 L280.68 320.34 L282.7 320.5" stroke-width="3.8"/>
<path d="M297.3 321.49 L299.42 321.63 L301.53 321.78 L303.65 321.92 L305.77 322.06 L307.88 322.2 L310 322.33 L312.12 322.45 L314.23 322.56 L316.35 322.66 L318.47 322.74 L320.58 322.83 L322.7 322.93" stroke-width="3.8"/>
<path d="M338.75 324.07 L340.75 324.19 L342.75 324.29 L344.75 324.39 L346.75 324.48 L348.75 324.57 L350.75 324.66 L352.75 324.75 L354.75 324.83 L356.75 324.92 L358.75 325.02 L360.75 325.11 L362.75 325.22 L364.75 325.33" stroke-width="3.7"/>
<path d="M379.85 326.37 L381.97 326.47 L384.08 326.57 L386.2 326.66 L388.32 326.75 L390.43 326.83 L392.55 326.91 L394.67 326.99 L396.78 327.07 L398.9 327.15 L401.02 327.24 L403.13 327.33 L405.25 327.43" stroke-width="3.7"/>
<path d="M421.25 328.45 L423.25 328.53 L425.25 328.6 L427.25 328.67 L429.25 328.73 L431.25 328.78 L433.25 328.83 L435.25 328.88 L437.25 328.93 L439.25 328.99 L441.25 329.04 L443.25 329.11 L445.25 329.17 L447.25 329.25" stroke-width="3.7"/>
<path d="M461.75 330.08 L463.82 330.22 L465.89 330.35 L467.95 330.5 L470.02 330.64 L472.09 330.79 L474.16 330.94 L476.23 331.09 L478.3 331.25 L480.36 331.4 L482.43 331.56 L484.5 331.72 L486.57 331.87 L488.64 332.03 L490.7 332.19 L492.77 332.35 L494.84 332.5 L496.91 332.66 L498.98 332.81 L501.05 332.97 L503.11 333.12 L505.18 333.27 L507.25 333.41" stroke-width="3.7"/>
<path d="M523.25 334.47 L525.29 334.57 L527.33 334.67 L529.38 334.77 L531.42 334.86 L533.46 334.95 L535.5 335.04 L537.54 335.12 L539.58 335.21 L541.62 335.29 L543.67 335.38 L545.71 335.46 L547.75 335.55" stroke-width="3.7"/>
<path d="M563.75 336.21 L565.77 336.28 L567.78 336.35 L569.8 336.42 L571.81 336.49 L573.83 336.56 L575.84 336.63 L577.86 336.69 L579.87 336.75 L581.89 336.81 L583.9 336.86 L585.92 336.91 L587.93 336.95 L589.95 336.98" stroke-width="3.7"/>
<path d="M596.45 337.06 L598.59 337.08 L600.72 337.1 L602.86 337.11 L605 337.13 L607.13 337.15 L609.27 337.17 L611.4 337.2 L613.54 337.23 L615.68 337.27 L617.81 337.33 L619.95 337.39" stroke-width="3.7"/>
<path d="M635.2 337.71 L637.23 337.72 L639.26 337.73 L641.29 337.73 L643.32 337.74 L645.35 337.74 L647.38 337.75 L649.42 337.75 L651.45 337.76 L653.48 337.76 L655.51 337.77 L657.54 337.77 L659.57 337.78 L661.6 337.79" stroke-width="3.6"/>
<path d="M676.6 338.01 L678.62 338.02 L680.63 338.03 L682.65 338.03 L684.66 338.04 L686.68 338.04 L688.69 338.05 L690.71 338.05 L692.72 338.06 L694.74 338.06 L696.75 338.07 L698.77 338.07 L700.78 338.08 L702.8 338.09" stroke-width="3.6"/>
<path d="M717.95 338.41 L719.99 338.43 L722.03 338.45 L724.07 338.46 L726.1 338.47 L728.14 338.48 L730.18 338.49 L732.22 338.49 L734.26 338.5 L736.3 338.51 L738.33 338.53 L740.37 338.54 L742.41 338.56 L744.45 338.58" stroke-width="3.5"/>
<path d="M759.05 339.45 L761.08 339.54 L763.12 339.62 L765.15 339.69 L767.18 339.76 L769.22 339.82 L771.25 339.88 L773.28 339.94 L775.32 340 L777.35 340.06 L779.38 340.12 L781.42 340.2 L783.45 340.28 L785.48 340.36 L787.52 340.46 L789.55 340.57" stroke-width="3.3"/>
<path d="M804 342.15 L806.05 342.49 L808.1 342.86 L810.15 343.28 L812.2 343.72 L814.25 344.2 L816.3 344.72 L818.35 345.25 L820.4 345.82 L822.45 346.4 L824.5 347.01 L826.55 347.63 L828.6 348.27 L830.65 348.92 L832.7 349.57 L834.75 350.24 L836.8 350.91 L838.85 351.59 L840.9 352.26 L842.95 352.93 L845 353.6" stroke-width="3.2"/>
<path d="M857.4 358.16 L859.45 359.02 L861.5 359.92 L863.55 360.85 L865.6 361.81" stroke-width="3"/>
</g>
<path d="M396.8 289V298.3L395.8 299.8V317.4L394.8 319V326" stroke="#000" stroke-width="1.6" fill="none"/>
<g font-family="'Liberation Sans', sans-serif" fill="#000" stroke="#000" stroke-width="0.45" stroke-linejoin="round" style="font-kerning:none">
<g transform="translate(103 647.6) scale(0.81 1)" font-size="45">
<text x="-25.03" y="0">0</text>
</g>
<g transform="translate(103 593.25) scale(0.81 1)" font-size="45">
<path transform="translate(-25.03 0) scale(0.02197 -0.02142)" d="M763 0H583V1147Q518 1085 412 1023T223 930V1104Q373 1175 485 1275T644 1466H763Z"/>
</g>
<g transform="translate(103 538.9) scale(0.81 1)" font-size="45">
<text x="-25.03" y="0">2</text>
</g>
<g transform="translate(103 484.55) scale(0.81 1)" font-size="45">
<text x="-25.03" y="0">3</text>
</g>
<g transform="translate(103 430.2) scale(0.81 1)" font-size="45">
<text x="-25.03" y="0">4</text>
</g>
<g transform="translate(103 375.85) scale(0.81 1)" font-size="45">
<text x="-25.03" y="0">5</text>
</g>
<g transform="translate(103 321.5) scale(0.81 1)" font-size="45">
<text x="-25.03" y="0">6</text>
</g>
<g transform="translate(103 267.15) scale(0.81 1)" font-size="45">
<text x="-25.03" y="0">7</text>
</g>
<g transform="translate(103 212.8) scale(0.81 1)" font-size="45">
<text x="-25.03" y="0">8</text>
</g>
<g transform="translate(103 158.45) scale(0.81 1)" font-size="45">
<text x="-25.03" y="0">9</text>
</g>
<g transform="translate(103 104.1) scale(0.81 1)" font-size="45">
<path transform="translate(-50.05 0) scale(0.02197 -0.02142)" d="M763 0H583V1147Q518 1085 412 1023T223 930V1104Q373 1175 485 1275T644 1466H763Z"/>
<text x="-25.03" y="0">0</text>
</g>
<g transform="translate(143.1 695.4) scale(0.8 1)" font-size="47.5">
<text x="-13.21" y="0">0</text>
</g>
<g transform="translate(255.76 695.4) scale(0.8 1)" font-size="47.5">
<text x="-52.83" y="0">2000</text>
</g>
<g transform="translate(368.42 695.4) scale(0.8 1)" font-size="47.5">
<text x="-52.83" y="0">4000</text>
</g>
<g transform="translate(481.08 695.4) scale(0.8 1)" font-size="47.5">
<text x="-52.83" y="0">6000</text>
</g>
<g transform="translate(593.74 695.4) scale(0.8 1)" font-size="47.5">
<text x="-52.83" y="0">8000</text>
</g>
<g transform="translate(706.4 695.4) scale(0.8 1)" font-size="47.5">
<path transform="translate(-66.04 0) scale(0.02319 -0.02261)" d="M763 0H583V1147Q518 1085 412 1023T223 930V1104Q373 1175 485 1275T644 1466H763Z"/>
<text x="-39.63" y="0">0000</text>
</g>
<g transform="translate(819.06 695.4) scale(0.8 1)" font-size="47.5">
<path transform="translate(-66.04 0) scale(0.02319 -0.02261)" d="M763 0H583V1147Q518 1085 412 1023T223 930V1104Q373 1175 485 1275T644 1466H763Z"/>
<text x="-39.63" y="0">2000</text>
</g>
<g transform="translate(931.72 695.4) scale(0.8 1)" font-size="47.5">
<path transform="translate(-66.04 0) scale(0.02319 -0.02261)" d="M763 0H583V1147Q518 1085 412 1023T223 930V1104Q373 1175 485 1275T644 1466H763Z"/>
<text x="-39.63" y="0">4000</text>
</g>
<g transform="translate(987.3 742.7) scale(0.84 1)" font-size="46">
<text x="-186.63" y="0">qn</text>
<text x="-122.68" y="0">[l/min]</text>
</g>
<g transform="translate(43.5 202.5) rotate(-90) scale(0.84 1)" font-size="46">
<text x="0" y="0">p2</text>
<text x="63.95" y="0">[bar]</text>
</g>
<g transform="translate(762.7 70) scale(0.82 1)" font-size="43.5">
<text x="0" y="0">p</text>
<path transform="translate(24.19 0) scale(0.02124 -0.02071)" d="M763 0H583V1147Q518 1085 412 1023T223 930V1104Q373 1175 485 1275T644 1466H763Z"/>
<text x="60.47" y="0">=</text>
<text x="97.96" y="0">8</text>
<text x="134.24" y="0">bar</text>
</g>
<g transform="translate(349.6 275.4) scale(0.82 1)" font-size="43.7">
<text x="0" y="0">p</text>
<path transform="translate(24.3 0) scale(0.02134 -0.02080)" d="M763 0H583V1147Q518 1085 412 1023T223 930V1104Q373 1175 485 1275T644 1466H763Z"/>
<text x="60.75" y="0">=</text>
<path transform="translate(98.41 0) scale(0.02134 -0.02080)" d="M763 0H583V1147Q518 1085 412 1023T223 930V1104Q373 1175 485 1275T644 1466H763Z"/>
<text x="122.71" y="0">0</text>
<text x="159.16" y="0">bar</text>
</g>
</g>
<g font-family="'Liberation Sans', sans-serif" fill="#000" stroke="#000" stroke-width="0.25" style="font-kerning:none">
<g transform="translate(101.8 284) scale(0.94 1)" font-size="26">
<text x="0" y="0">6,3</text>
</g>
<g transform="translate(107.3 346.5) scale(0.94 1)" font-size="26">
<text x="0" y="0">5,3</text>
</g>
</g>
</svg>
</body></html>
